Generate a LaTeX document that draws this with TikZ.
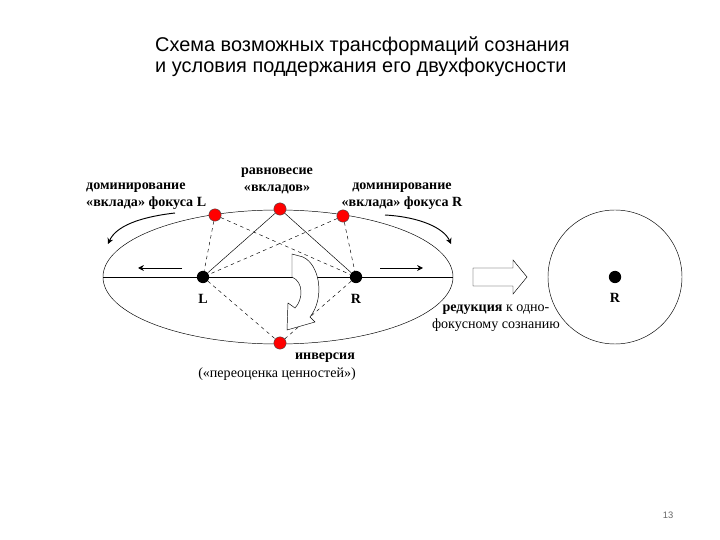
\documentclass[tikz,border=0pt]{standalone}
\usepackage{fontspec}
\setmainfont{Liberation Serif}
\newfontfamily\headfont{Liberation Sans}
\usetikzlibrary{positioning, arrows.meta, calc}
\tikzset{
  reddot/.style={circle, fill=red, draw=black!70, inner sep=0pt, minimum size=10.5pt},
  blackdot/.style={circle, fill=black, inner sep=0pt, minimum size=10.5pt},
  lbl/.style={font=\fontsize{12}{14.5}\selectfont, align=center, inner sep=0pt},
  blbl/.style={lbl, font=\bfseries\fontsize{12}{14.5}\selectfont},
  link/.style={thin},
  dlink/.style={thin, dashed},
  arrow/.style={thick,-{Stealth[length=5pt,width=5pt]}}
}
\begin{document}
\begin{tikzpicture}[x=0.03cm, y=-0.03cm]
        \useasboundingbox (0,0) rectangle (720,540);
        % title
        \node (title) [anchor=west, align=left, inner sep=0pt, font=\headfont\fontsize{17}{18}\selectfont] at (155,57) {Схема возможных трансформаций сознания\\и условия поддержания его двухфокусности};

        % ellipse with two foci
        \draw (278,277) ellipse [x radius=5.25cm, y radius=2.01cm];
        \draw (103,277) -- (453,277);
        \node (L) [blackdot] at (203,277) {};
        \node (R) [blackdot] at (356,277) {};
        \node (domL) [reddot] at (215,215) {};
        \node (eq) [reddot] at (280,209) {};
        \node (domR) [reddot] at (343,216) {};
        \node (inv) [reddot] at (280,343) {};

        \draw [link] (eq) -- (L);
        \draw [link] (eq) -- (R);
        \draw [dlink] (domL) -- (L);
        \draw [dlink] (domL) -- (R);
        \draw [dlink] (domR) -- (L);
        \draw [dlink] (domR) -- (R);
        \draw [dlink] (L) -- (inv);
        \draw [dlink] (R) -- (inv);

        % curved block arrow (inversion)
        \draw [fill=white] (292,254) -- (303,257) .. controls (320,265) and (325,298) .. (310,317) -- (315,322) -- (287,330) -- (288,303) -- (295,308) .. controls (303,300) and (304,282) .. (292,277) -- cycle;

        % shifts of the foci
        \coordinate (shL1) at (182,268);
        \coordinate (shL2) at (138,268);
        \coordinate (shR1) at (380,268);
        \coordinate (shR2) at (423,268);
        \draw [arrow] (shL1) -- (shL2);
        \draw [arrow] (shR1) -- (shR2);
        \coordinate (bowL1) at (175,213);
        \coordinate (bowL2) at (108,244);
        \coordinate (bowR1) at (385,215);
        \coordinate (bowR2) at (451,244);
        \draw [arrow] (bowL1) .. controls (140,217) and (116,226) .. (bowL2);
        \draw [arrow] (bowR1) .. controls (420,217) and (444,228) .. (bowR2);

        % labels
        \node (Ltxt) [blbl] at (203,299) {L};
        \node (Rtxt) [blbl] at (356,299) {R};
        \node (domLtxt) [blbl, anchor=west, align=left] at (86,196) {доминирование\\«вклада» фокуса L};
        \node (eqtxt) [blbl] at (277,181) {равновесие\\«вкладов»};
        \node (domRtxt) [blbl] at (402,196) {доминирование\\«вклада» фокуса R};
        \node (invtxt) [blbl] at (325,358) {инверсия};
        \node (revtxt) [lbl] at (277,374) {(«переоценка ценностей»)};

        % reduction to one focus
        \draw (473,268) -- (513,268) -- (513,260) -- (527,277) -- (513,294) -- (513,286) -- (473,286) -- cycle;
        \node (redtxt) [lbl] at (496,318) {\textbf{редукция} к одно-\\фокусному сознанию};
        \draw (615,277) circle [radius=2.01cm];
        \node (R2) [blackdot] at (615,277) {};
        \node (R2txt) [blbl] at (615,298) {R};

        \node (page) [font=\headfont\footnotesize, text=black!60] at (668,515) {13};
    \end{tikzpicture}
\end{document}
